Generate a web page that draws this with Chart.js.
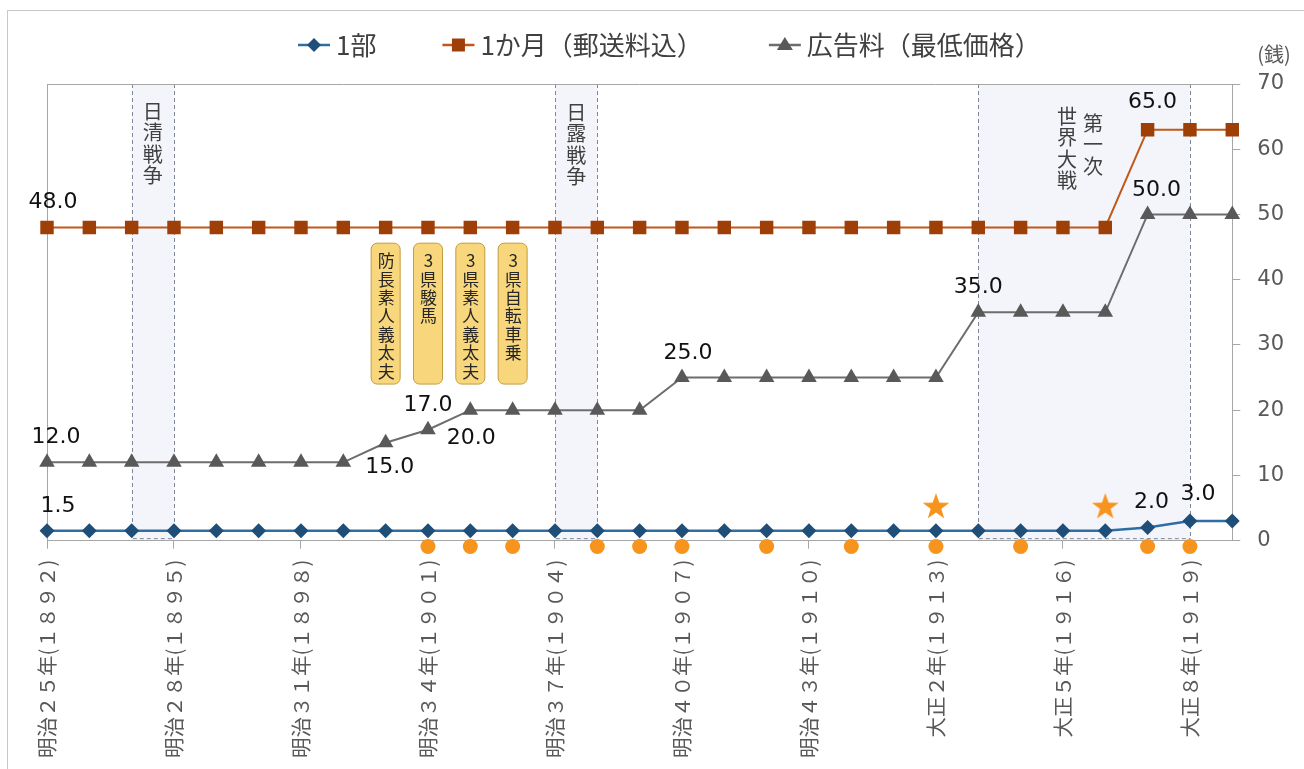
<!DOCTYPE html>
<html lang="ja">
<head>
<meta charset="utf-8">
<title>新聞の購読料・広告料の推移</title>
<script src="https://cdn.jsdelivr.net/npm/chart.js@4.4.1/dist/chart.umd.min.js"></script>
<style>
  html, body { margin: 0; padding: 0; background: #fff; }
  #wrap { position: relative; width: 1304px; height: 769px; overflow: hidden; }
  #frame { position: absolute; left: 7px; top: 10px; width: 1400px; height: 900px; border: 1px solid #c8c8c8; }
  #chart { position: absolute; left: 0; top: 0; }
</style>
</head>
<body>
<div id="wrap">
  <div id="frame"></div>
  <canvas id="chart" width="1304" height="769"></canvas>
</div>
<script>
// 年次（x軸のカテゴリ）
const categories = [
  '明治２５年(１８９２)', '明治２６年(１８９３)', '明治２７年(１８９４)', '明治２８年(１８９５)',
  '明治２９年(１８９６)', '明治３０年(１８９７)', '明治３１年(１８９８)', '明治３２年(１８９９)',
  '明治３３年(１９００)', '明治３４年(１９０１)', '明治３５年(１９０２)', '明治３６年(１９０３)',
  '明治３７年(１９０４)', '明治３８年(１９０５)', '明治３９年(１９０６)', '明治４０年(１９０７)',
  '明治４１年(１９０８)', '明治４２年(１９０９)', '明治４３年(１９１０)', '明治４４年(１９１１)',
  '明治４５年(１９１２)', '大正２年(１９１３)', '大正３年(１９１４)', '大正４年(１９１５)',
  '大正５年(１９１６)', '大正６年(１９１７)', '大正７年(１９１８)', '大正８年(１９１９)',
  '大正９年(１９２０)'
];
const years = [
  1892, 1893, 1894, 1895, 1896, 1897, 1898, 1899, 1900, 1901, 1902, 1903, 1904, 1905, 1906,
  1907, 1908, 1909, 1910, 1911, 1912, 1913, 1914, 1915, 1916, 1917, 1918, 1919, 1920
];
const tickEvery = 3; // 3年おきに目盛ラベル

// 系列（単位：銭）
const perCopy = [
  1.5, 1.5, 1.5, 1.5, 1.5, 1.5, 1.5, 1.5, 1.5, 1.5, 1.5, 1.5, 1.5, 1.5, 1.5,
  1.5, 1.5, 1.5, 1.5, 1.5, 1.5, 1.5, 1.5, 1.5, 1.5, 1.5, 2.0, 3.0, 3.0
];
// 1918年以降は図中では63付近に描かれている（ラベルは65.0）
const perMonth = [
  48, 48, 48, 48, 48, 48, 48, 48, 48, 48, 48, 48, 48, 48, 48,
  48, 48, 48, 48, 48, 48, 48, 48, 48, 48, 48, 63, 63, 63
];
const adPrice = [
  12, 12, 12, 12, 12, 12, 12, 12, 15, 17, 20, 20, 20, 20, 20,
  25, 25, 25, 25, 25, 25, 25, 35, 35, 35, 35, 50, 50, 50
];
const yTicks = [0, 10, 20, 30, 40, 50, 60, 70];

// 注記の年
const dotYears = [1901, 1902, 1903, 1905, 1906, 1907, 1909, 1911, 1913, 1915, 1918, 1919];
const starYears = [1913, 1917];
const DOT_LEVEL = -0.9;
const STAR_LEVEL = 5.3;

const wars = [
  { from: 1894, to: 1895, columns: [{ text: '日清戦争', dx: 0, dy: 17 }] },
  { from: 1904, to: 1905, columns: [{ text: '日露戦争', dx: 0, dy: 18 }] },
  { from: 1914, to: 1919, columns: [{ text: '世界大戦', dx: -17, dy: 22 }, { text: '第一次', dx: 9, dy: 29 }] }
];

const notes = [
  { year: 1900, text: '防長素人義太夫' },
  { year: 1901, text: '3県駿馬' },
  { year: 1902, text: '3県素人義太夫' },
  { year: 1903, text: '3県自転車乗' }
];
const NOTE_TOP = 45.6, NOTE_BOTTOM = 24.0;

// 数値ラベル（series: 0=1部, 1=1か月, 2=広告料）
const valueLabels = [
  { series: 1, year: 1892, dx: 6, dy: -25 },
  { series: 1, year: 1918, dx: 5, dy: -27, text: '65.0' },
  { series: 2, year: 1892, dx: 9, dy: -25 },
  { series: 2, year: 1900, dx: 4, dy: 24 },
  { series: 2, year: 1901, dx: 0, dy: -24 },
  { series: 2, year: 1902, dx: 1, dy: 28 },
  { series: 2, year: 1907, dx: 6, dy: -24 },
  { series: 2, year: 1914, dx: 0, dy: -25 },
  { series: 2, year: 1918, dx: 9, dy: -24 },
  { series: 0, year: 1892, dx: 11, dy: -25 },
  { series: 0, year: 1918, dx: 4, dy: -25 },
  { series: 0, year: 1919, dx: 8, dy: -27 }
];

const COLORS = {
  copyLine: '#2f6ea5', copyMark: '#1f4e79',
  monthLine: '#c0581a', monthMark: '#9e3f08',
  adLine: '#6d6d6d', adMark: '#595959',
  orange: '#f7941d', axis: '#a6a6a6', text: '#595959'
};
const JP = '"Noto Sans CJK JP", "Noto Sans", sans-serif';
const NUM = '"DejaVu Sans", Verdana, sans-serif';

const catOf = (y) => categories[years.indexOf(y)];
const idxOf = (y) => years.indexOf(y);

// 星印（塗りつぶし）をポイント画像として作る
function makeStar(size, color) {
  const c = document.createElement('canvas');
  c.width = size; c.height = size;
  const g = c.getContext('2d');
  const cx = size / 2, cy = size / 2 + 1, ro = size / 2, ri = ro * 0.4;
  g.fillStyle = color;
  g.beginPath();
  for (let i = 0; i < 10; i++) {
    const r = i % 2 ? ri : ro;
    const a = -Math.PI / 2 + i * Math.PI / 5;
    g.lineTo(cx + r * Math.cos(a), cy + r * Math.sin(a));
  }
  g.closePath();
  g.fill();
  return c;
}

function drawVertical(ctx, text, x, top, step) {
  for (let i = 0; i < text.length; i++) {
    ctx.fillText(text[i], x, top + i * step);
  }
}

// 戦争期間の帯
const bandsPlugin = {
  id: 'warBands',
  beforeDraw(chart) {
    const { ctx, chartArea: area, scales: { x } } = chart;
    ctx.save();
    wars.forEach(w => {
      const x1 = x.getPixelForValue(idxOf(w.from));
      const x2 = x.getPixelForValue(idxOf(w.to));
      ctx.fillStyle = '#f3f5fa';
      ctx.fillRect(x1, area.top, x2 - x1, area.bottom - area.top);
      ctx.strokeStyle = '#7d8799';
      ctx.lineWidth = 1;
      ctx.setLineDash([4, 3]);
      ctx.beginPath();
      ctx.moveTo(Math.round(x1) + 0.5, area.top); ctx.lineTo(Math.round(x1) + 0.5, area.bottom - 2);
      ctx.lineTo(Math.round(x2) + 0.5, area.bottom - 2);
      ctx.moveTo(Math.round(x2) + 0.5, area.top); ctx.lineTo(Math.round(x2) + 0.5, area.bottom - 2);
      ctx.stroke();
      ctx.setLineDash([]);
      ctx.fillStyle = '#404040';
      ctx.font = '20px ' + JP;
      ctx.textAlign = 'center';
      ctx.textBaseline = 'top';
      const mid = (x1 + x2) / 2;
      w.columns.forEach(col => drawVertical(ctx, col.text, mid + col.dx, area.top + col.dy, 21.5));
    });
    ctx.restore();
  }
};

// 黄色の注記ボックス
const notesPlugin = {
  id: 'eventNotes',
  beforeDatasetsDraw(chart) {
    const { ctx, scales: { x, y } } = chart;
    const top = y.getPixelForValue(NOTE_TOP), bottom = y.getPixelForValue(NOTE_BOTTOM);
    ctx.save();
    notes.forEach(n => {
      const cx = x.getPixelForValue(idxOf(n.year));
      ctx.beginPath();
      ctx.roundRect(cx - 14.5, top, 29, bottom - top, 6);
      ctx.fillStyle = '#f8d67c';
      ctx.fill();
      ctx.strokeStyle = '#c29d3f';
      ctx.lineWidth = 1;
      ctx.stroke();
      ctx.fillStyle = '#262626';
      ctx.font = '17px ' + JP;
      ctx.textAlign = 'center';
      ctx.textBaseline = 'top';
      drawVertical(ctx, n.text, cx + 0.5, top + 9, 18.4);
    });
    ctx.restore();
  }
};

// 数値ラベル
const labelsPlugin = {
  id: 'valueLabels',
  afterDatasetsDraw(chart) {
    const ctx = chart.ctx;
    ctx.save();
    ctx.font = '22px ' + NUM;
    ctx.fillStyle = '#111';
    ctx.textAlign = 'center';
    ctx.textBaseline = 'middle';
    valueLabels.forEach(l => {
      const i = idxOf(l.year);
      const pt = chart.getDatasetMeta(l.series).data[i];
      const v = chart.data.datasets[l.series].data[i];
      ctx.fillText(l.text || v.toFixed(1), pt.x + l.dx, pt.y + l.dy);
    });
    ctx.restore();
  }
};

// 凡例（線＋マーカー）と単位
function drawMarker(ctx, style, cx, cy, color) {
  ctx.fillStyle = color;
  ctx.beginPath();
  if (style === 'rectRot') {
    ctx.moveTo(cx - 7, cy); ctx.lineTo(cx, cy - 7); ctx.lineTo(cx + 7, cy); ctx.lineTo(cx, cy + 7);
  } else if (style === 'rect') {
    ctx.rect(cx - 6.5, cy - 6.5, 13, 13);
  } else {
    ctx.moveTo(cx, cy - 8); ctx.lineTo(cx + 8, cy + 5); ctx.lineTo(cx - 8, cy + 5);
  }
  ctx.closePath();
  ctx.fill();
}

const legendPlugin = {
  id: 'seriesLegend',
  afterDraw(chart) {
    const ctx = chart.ctx;
    const items = chart.data.datasets.slice(0, 3);
    ctx.save();
    ctx.font = '26px ' + JP;
    const iconW = 32, gap = 6, itemGap = 66, cy = 45;
    let x = 298;
    items.forEach(d => {
      ctx.strokeStyle = d.borderColor;
      ctx.lineWidth = 2.5;
      ctx.beginPath(); ctx.moveTo(x, cy); ctx.lineTo(x + iconW, cy); ctx.stroke();
      drawMarker(ctx, d.pointStyle, x + iconW / 2, cy, d.backgroundColor);
      ctx.fillStyle = '#404040';
      ctx.textAlign = 'left';
      ctx.textBaseline = 'middle';
      ctx.fillText(d.label, x + iconW + gap, cy);
      x += iconW + gap + ctx.measureText(d.label).width + itemGap;
    });
    // 単位
    ctx.font = '20px ' + JP;
    ctx.fillStyle = COLORS.text;
    ctx.fillText('(銭)', chart.scales.y.left + 25, 54);
    ctx.restore();
  }
};

const starImg = makeStar(28, COLORS.orange);

const ctxChart = document.getElementById('chart').getContext('2d');
const priceChart = new Chart(ctxChart, {
  type: 'line',
  data: {
    labels: categories,
    datasets: [
      {
        label: '1部', data: perCopy,
        borderColor: COLORS.copyLine, backgroundColor: COLORS.copyMark,
        borderWidth: 2.5, pointStyle: 'rectRot', pointRadius: 7.5, pointBorderWidth: 0
      },
      {
        label: '1か月（郵送料込）', data: perMonth,
        borderColor: COLORS.monthLine, backgroundColor: COLORS.monthMark,
        borderWidth: 2, pointStyle: 'rect', pointRadius: 9.5, pointBorderWidth: 0
      },
      {
        label: '広告料（最低価格）', data: adPrice,
        borderColor: COLORS.adLine, backgroundColor: COLORS.adMark,
        borderWidth: 2, pointStyle: 'triangle', pointRadius: 9, pointBorderWidth: 0
      },
      {
        label: 'dots', data: dotYears.map(y => ({ x: catOf(y), y: DOT_LEVEL })),
        showLine: false, pointStyle: 'circle', pointRadius: 7.5, pointBorderWidth: 0,
        backgroundColor: COLORS.orange, borderColor: COLORS.orange, clip: false
      },
      {
        label: 'stars', data: starYears.map(y => ({ x: catOf(y), y: STAR_LEVEL })),
        showLine: false, pointStyle: starImg, backgroundColor: COLORS.orange, clip: false
      }
    ]
  },
  options: {
    responsive: false,
    animation: false,
    layout: { padding: { top: 84, right: 3, bottom: 0, left: 47 } },
    plugins: {
      legend: { display: false },
      tooltip: { enabled: false }
    },
    scales: {
      x: {
        offset: false,
        grid: {
          color: c => (c.index === 0 ? COLORS.axis : 'transparent'),
          tickColor: c => (c.index % tickEvery === 0 ? COLORS.axis : 'transparent'),
          tickLength: 8
        },
        border: { color: COLORS.axis },
        ticks: {
          autoSkip: false, minRotation: 90, maxRotation: 90, padding: 11,
          color: COLORS.text, font: { family: JP, size: 20.5 },
          callback: (v, i) => (i % tickEvery === 0 ? categories[i] : '')
        }
      },
      y: {
        position: 'right',
        min: yTicks[0], max: yTicks[yTicks.length - 1],
        grid: {
          color: c => (c.tick && c.tick.value === yTicks[yTicks.length - 1] ? COLORS.axis : 'transparent'),
          tickColor: COLORS.axis, tickLength: 8
        },
        border: { color: COLORS.axis },
        ticks: {
          stepSize: 10, padding: 17, color: COLORS.text,
          font: { family: NUM, size: 21 }
        }
      }
    }
  },
  plugins: [bandsPlugin, notesPlugin, labelsPlugin, legendPlugin]
});
</script>
</body>
</html>
